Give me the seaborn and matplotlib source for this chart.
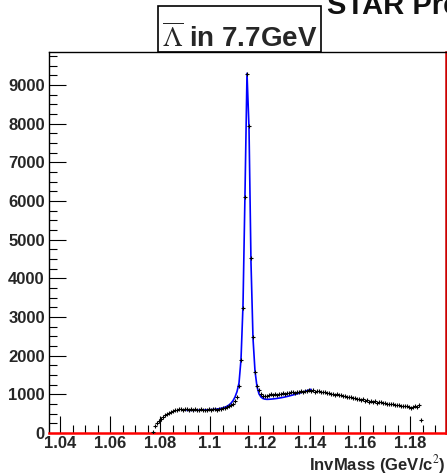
import numpy as np
import pandas as pd
import seaborn as sns
import matplotlib.pyplot as plt
from matplotlib.ticker import MultipleLocator
from matplotlib.patches import Rectangle

# histogram: bin centers 1.0404 + 0.0008*i, i = 46..180
bin_start = 46
counts = [35, 180, 250, 320, 370, 420, 455, 490, 520, 545,
          575, 590, 605, 610, 615, 600, 620, 610, 605, 625,
          600, 610, 595, 600, 615, 590, 605, 600, 620, 595,
          610, 615, 605, 625, 630, 640, 655, 660, 690, 720,
          760, 840, 938, 1214, 1886, 3220, 6106, 9270, 7940, 4530,
          2490, 1584, 1214, 1100, 1000, 956, 945, 960, 990, 1000,
          985, 1010, 995, 1020, 1005, 1030, 1015, 1040, 1025, 1050,
          1060, 1045, 1070, 1055, 1080, 1065, 1095, 1080, 1110, 1095,
          1120, 1060, 1090, 1075, 1070, 1050, 1060, 1035, 1040, 1010,
          1020, 990, 1000, 975, 985, 960, 950, 940, 920, 930,
          900, 910, 880, 890, 860, 870, 830, 845, 800, 830,
          790, 820, 780, 800, 790, 770, 775, 760, 750, 740,
          745, 730, 720, 725, 710, 700, 705, 690, 680, 640,
          670, 700, 680, 720, 340]

# fit curve, same bin centers, i = 63..125
fit_start = 63
fit_vals = [585, 585, 586, 587, 588, 589, 590, 592, 594, 596,
            598, 601, 604, 608, 613, 619, 627, 637, 650, 668,
            692, 725, 770, 835, 930, 1070, 1290, 1900, 3300, 6200,
            9300, 7900, 4400, 2450, 1600, 1200, 1010, 930, 890, 875,
            870, 872, 876, 881, 887, 894, 902, 911, 921, 932,
            944, 957, 970, 984, 998, 1013, 1028, 1044, 1060, 1077,
            1094, 1112, 1130]

x_ticks = [1.04, 1.06, 1.08, 1.1, 1.12, 1.14, 1.16, 1.18]
x_labels = ["1.04", "1.06", "1.08", "1.1", "1.12", "1.14", "1.16", "1.18"]

df = pd.DataFrame({"mass": 1.0404 + 0.0008 * np.arange(bin_start, bin_start + len(counts)),
                   "counts": counts})
df_fit = pd.DataFrame({"mass": 1.0404 + 0.0008 * np.arange(fit_start, fit_start + len(fit_vals)),
                       "fit": fit_vals})

sns.set_theme(style="white")
plt.rcParams['font.family'] = ['Liberation Sans', 'DejaVu Sans']
plt.rcParams['mathtext.fontset'] = 'stix'

fig = plt.figure(figsize=(4.47, 4.75), dpi=100)
ax = fig.add_axes([49 / 447, 42 / 475, 397 / 447, 381 / 475])

sns.scatterplot(data=df, x="mass", y="counts", marker="+", color="black",
                s=10, linewidth=0.8, ax=ax, zorder=3)
sns.lineplot(data=df_fit, x="mass", y="fit", color="blue", linewidth=1.2, ax=ax, zorder=2)

ax.set_xlim(1.0356, 1.1944)
ax.set_ylim(0, 9850)
ax.set_xticks(x_ticks)
ax.set_xticklabels(x_labels)
ax.set_yticks(range(0, 10000, 1000))
ax.xaxis.set_minor_locator(MultipleLocator(0.005))
ax.yaxis.set_minor_locator(MultipleLocator(250))
ax.tick_params(axis="both", which="both", direction="in", color="black",
               labelsize=12, bottom=True, left=True, top=False, right=False)
ax.tick_params(which="major", length=12, width=0.8)
ax.tick_params(which="minor", length=6, width=0.8)
ax.tick_params(axis="x", pad=2)
ax.tick_params(axis="y", pad=3)
for lab in ax.get_xticklabels() + ax.get_yticklabels():
    lab.set_fontweight("bold")

ax.set_xlabel("")
ax.set_ylabel("")
for s in ["left", "top"]:
    ax.spines[s].set_color("black")
    ax.spines[s].set_linewidth(1.0)
ax.spines["bottom"].set_color("red")
ax.spines["bottom"].set_linewidth(1.8)
ax.spines["right"].set_color("#cc0000")
ax.spines["right"].set_linewidth(1.8)

fig.text(446 / 447, 1 - 470 / 475, "InvMass (GeV/c$^{2}$)", ha="right", va="baseline",
         fontsize=12, fontweight="bold")

# title box
fig.patches.append(Rectangle((158 / 447, 1 - 52 / 475), 163 / 447, 46 / 475,
                             transform=fig.transFigure, fill=False, edgecolor="black",
                             linewidth=1.2))
fig.text(162 / 447, 1 - 47 / 475, r"$\overline{\Lambda}$ in 7.7GeV", ha="left",
         va="baseline", fontsize=20, fontweight="bold")
fig.text(327 / 447, 1 - 14 / 475, "STAR Preliminary", ha="left", va="baseline",
         fontsize=21, fontweight="bold", color="#111111")

fig.savefig("out.png", dpi=100)
